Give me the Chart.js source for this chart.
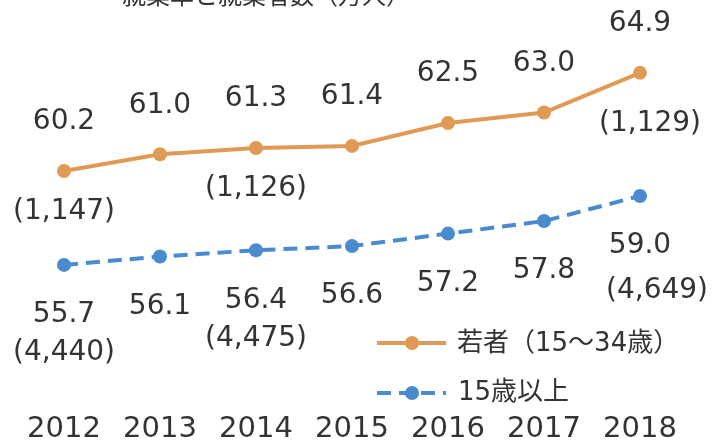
<!DOCTYPE html>
<html>
<head>
<meta charset="utf-8">
<script src="https://cdn.jsdelivr.net/npm/chart.js@4"></script>
<style>
html,body{margin:0;padding:0;background:#fff;}
#wrap{width:713px;height:446px;}
</style>
</head>
<body>
<div id="wrap"><canvas id="c" width="713" height="446"></canvas></div>
<script>
// ---- data ----
const years = ["2012","2013","2014","2015","2016","2017","2018"];
const youthRate = [60.2, 61.0, 61.3, 61.4, 62.5, 63.0, 64.9];
const allRate = [55.7, 56.1, 56.4, 56.6, 57.2, 57.8, 59.0];
const youthWorkers = [1147, null, 1126, null, null, null, 1129];
const allWorkers = [4440, null, 4475, null, null, null, 4649];
const youthLabel = "若者（15～34歳）";
const allLabel = "15歳以上";
const titleText = "就業率と就業者数（万人）";

const ORANGE = "#E09A55";
const BLUE = "#4A8ACF";
const TEXT = "#333333";
const NUMFONT = '"DejaVu Sans", "Noto Sans CJK JP", sans-serif';

function fmt(n){ return "(" + n.toLocaleString("en-US") + ")"; }

const labelPlugin = {
  id: "labels",
  afterDatasetsDraw(chart) {
    const ctx = chart.ctx;
    ctx.save();
    ctx.fillStyle = TEXT;
    ctx.textAlign = "center";
    ctx.textBaseline = "middle";
    ctx.font = "28px " + NUMFONT;
    const m0 = chart.getDatasetMeta(0).data;
    const m1 = chart.getDatasetMeta(1).data;
    m0.forEach((p, i) => {
      ctx.fillText(youthRate[i].toFixed(1), p.x, p.y - 49);
      if (youthWorkers[i] != null) {
        const last = i === years.length - 1;
        ctx.fillText(fmt(youthWorkers[i]), p.x + (last ? 10 : 0), p.y + (last ? 51 : 41));
      }
    });
    m1.forEach((p, i) => {
      const last = i === years.length - 1;
      ctx.fillText(allRate[i].toFixed(1), p.x, p.y + 50);
      if (allWorkers[i] != null) {
        ctx.fillText(fmt(allWorkers[i]), p.x + (last ? 17 : 0), p.y + (last ? 95 : 88));
      }
    });

    // title (cut at top)
    ctx.font = '24px "Noto Sans CJK JP", sans-serif';
    ctx.fillText(titleText, 266, -5);

    // legend
    const lx0 = 377, lx1 = 446, mx = 412;
    ctx.strokeStyle = ORANGE; ctx.lineWidth = 4;
    ctx.beginPath(); ctx.moveTo(lx0, 343); ctx.lineTo(lx1, 343); ctx.stroke();
    ctx.fillStyle = ORANGE;
    ctx.beginPath(); ctx.arc(mx, 343, 7, 0, Math.PI * 2); ctx.fill();
    ctx.strokeStyle = BLUE; ctx.setLineDash([14, 8]);
    ctx.beginPath(); ctx.moveTo(lx0, 393); ctx.lineTo(lx1, 393); ctx.stroke();
    ctx.setLineDash([]);
    ctx.fillStyle = BLUE;
    ctx.beginPath(); ctx.arc(mx, 393, 7, 0, Math.PI * 2); ctx.fill();
    ctx.fillStyle = TEXT;
    ctx.textAlign = "left";
    ctx.font = "26px " + NUMFONT;
    ctx.fillText(youthLabel, 457, 344);
    ctx.fillText(allLabel, 458, 393);
    ctx.restore();
  }
};

new Chart(document.getElementById("c"), {
  type: "line",
  data: {
    labels: years,
    datasets: [
      {
        label: youthLabel, data: youthRate,
        borderColor: ORANGE, backgroundColor: ORANGE,
        borderWidth: 4, pointRadius: 7, pointBackgroundColor: ORANGE,
        pointBorderWidth: 0, tension: 0
      },
      {
        label: allLabel, data: allRate,
        borderColor: BLUE, backgroundColor: BLUE,
        borderWidth: 4, borderDash: [14, 8], pointRadius: 7, pointBackgroundColor: BLUE,
        pointBorderWidth: 0, tension: 0
      }
    ]
  },
  options: {
    responsive: false,
    animation: false,
    devicePixelRatio: 1,
    layout: { padding: { left: 16, right: 25, top: 29, bottom: 0 } },
    plugins: { legend: { display: false }, tooltip: { enabled: false }, title: { display: false } },
    scales: {
      x: {
        offset: true,
        grid: { display: false, drawTicks: false },
        border: { display: false },
        ticks: { color: TEXT, font: { size: 29, family: NUMFONT, lineHeight: 1.2 }, padding: 49, maxRotation: 0, autoSkip: false },
        afterFit(scale) {
          scale.height = 83;
          scale.paddingLeft = 0;
          scale.paddingRight = 0;
        }
      },
      y: { display: false, min: 51, max: 67 }
    }
  },
  plugins: [labelPlugin]
});
</script>
</body>
</html>
